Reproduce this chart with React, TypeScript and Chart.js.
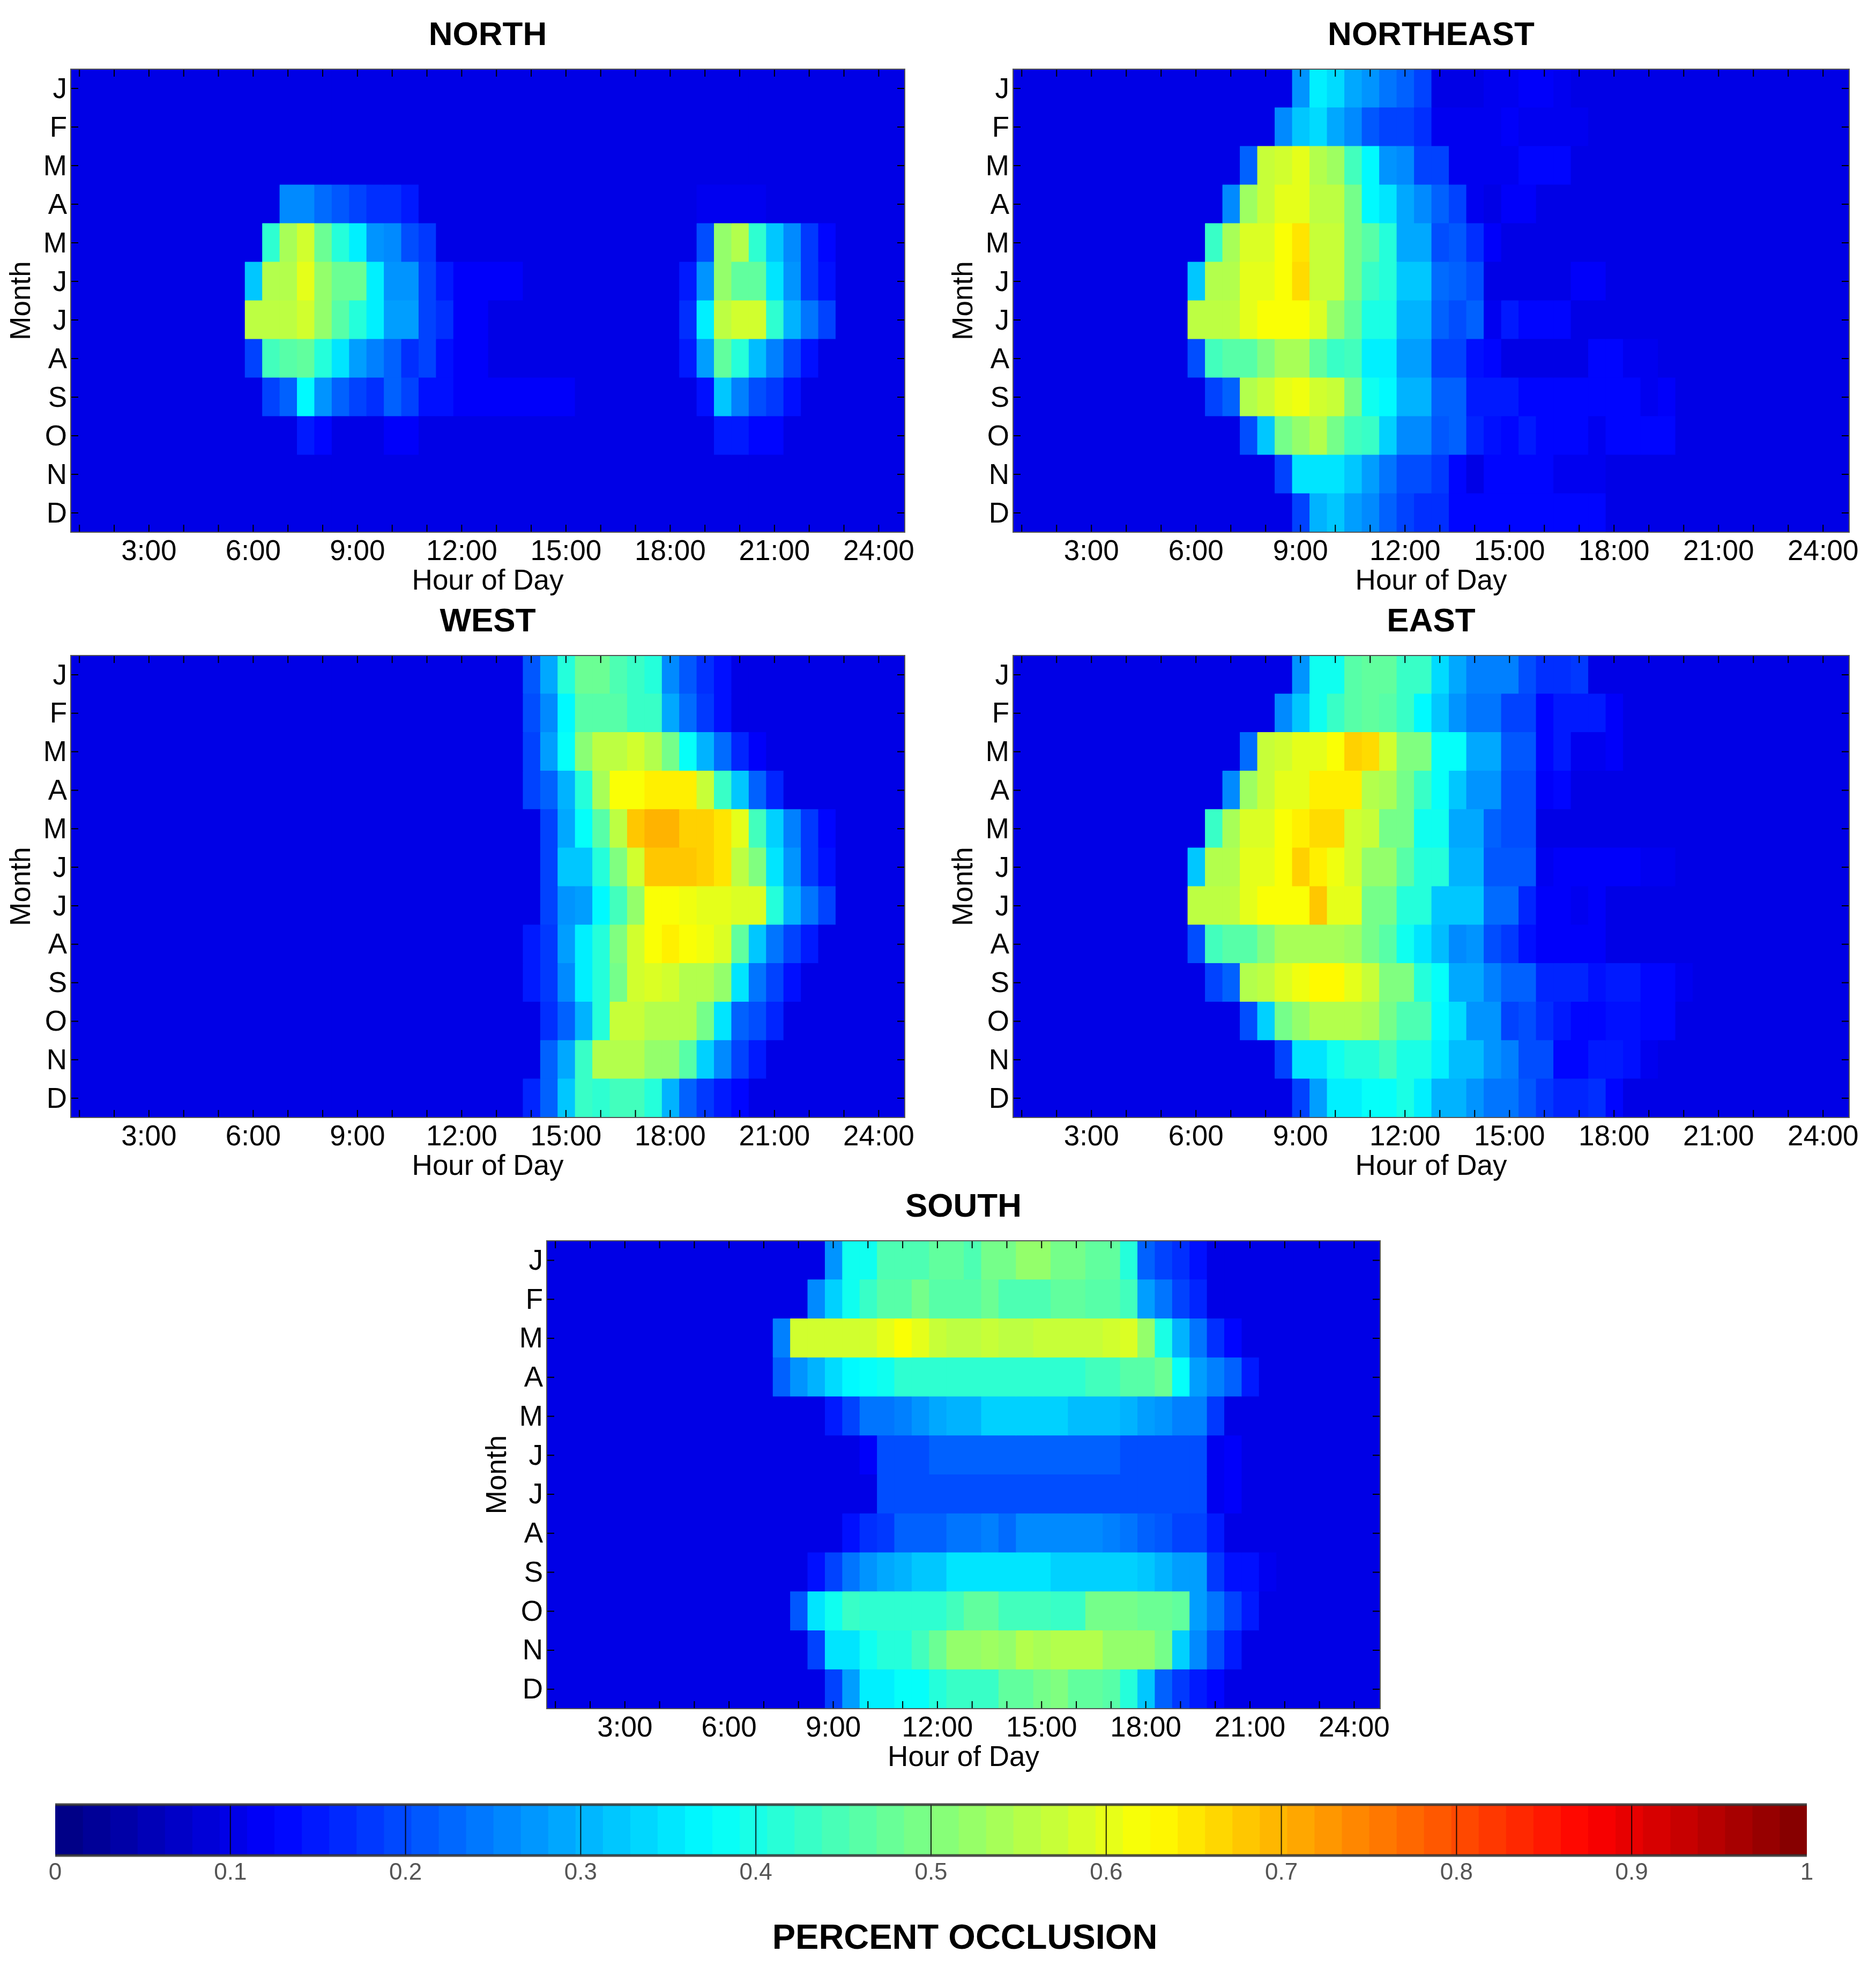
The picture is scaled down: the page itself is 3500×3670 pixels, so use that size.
import React, { useEffect, useRef } from "react";
import { Chart, registerables } from "chart.js";

Chart.register(...registerables);

const MONTHS = ["J", "F", "M", "A", "M", "J", "J", "A", "S", "O", "N", "D"];
const HOURS = [1, 1.5, 2, 2.5, 3, 3.5, 4, 4.5, 5, 5.5, 6, 6.5, 7, 7.5, 8, 8.5, 9, 9.5, 10, 10.5, 11, 11.5, 12, 12.5, 13, 13.5, 14, 14.5, 15, 15.5, 16, 16.5, 17, 17.5, 18, 18.5, 19, 19.5, 20, 20.5, 21, 21.5, 22, 22.5, 23, 23.5, 24, 24.5];
const HOUR_TICKS = [1, 2, 3, 4, 5, 6, 7, 8, 9, 10, 11, 12, 13, 14, 15, 16, 17, 18, 19, 20, 21, 22, 23, 24];
const HOUR_TICK_LABELS = ["", "", "3:00", "", "", "6:00", "", "", "9:00", "", "", "12:00", "", "", "15:00", "", "", "18:00", "", "", "21:00", "", "", "24:00"];
const COLORBAR_TICKS = [0, 0.1, 0.2, 0.3, 0.4, 0.5, 0.6, 0.7, 0.8, 0.9, 1];
const COLORBAR_TICK_LABELS = ["0", "0.1", "0.2", "0.3", "0.4", "0.5", "0.6", "0.7", "0.8", "0.9", "1"];

// Percent occlusion per month (rows) and half hour (columns), 8 columns per group.
const NORTH = [
  [10,10,10,10,10,10,10,10, 10,10,10,10,10,10,10,10, 10,10,10,10,10,10,10,10, 10,10,10,10,10,10,10,10, 10,10,10,10,10,10,10,10, 10,10,10,10,10,10,10,10],
  [10,10,10,10,10,10,10,10, 10,10,10,10,10,10,10,10, 10,10,10,10,10,10,10,10, 10,10,10,10,10,10,10,10, 10,10,10,10,10,10,10,10, 10,10,10,10,10,10,10,10],
  [10,10,10,10,10,10,10,10, 10,10,10,10,10,10,10,10, 10,10,10,10,10,10,10,10, 10,10,10,10,10,10,10,10, 10,10,10,10,10,10,10,10, 10,10,10,10,10,10,10,10],
  [10,10,10,10,10,10,10,10, 10,10,10,10,26,26,23,21, 19,17,17,15,10,10,10,10, 10,10,10,10,10,10,10,10, 10,10,10,10,11,11,11,11, 10,10,10,10,10,10,10,10],
  [10,10,10,10,10,10,10,10, 10,10,10,42,54,58,48,41, 36,27,26,20,18,10,10,10, 10,10,10,10,10,10,10,10, 10,10,10,10,20,52,55,42, 32,26,18,13,10,10,10,10],
  [10,10,10,10,10,10,10,10, 10,10,32,55,55,60,52,48, 48,36,27,27,19,15,12,12, 12,12,10,10,10,10,10,10, 10,10,10,15,27,52,47,47, 35,27,18,14,10,10,10,10],
  [10,10,10,10,10,10,10,10, 10,10,56,56,56,58,52,46, 41,36,28,28,19,17,12,12, 10,10,10,10,10,10,10,10, 10,10,10,17,36,56,58,58, 42,30,24,19,10,10,10,10],
  [10,10,10,10,10,10,10,10, 10,10,19,44,46,47,41,35, 28,25,22,17,19,14,12,12, 10,10,10,10,10,10,10,10, 10,10,10,15,28,47,41,31, 25,19,14,10,10,10,10,10],
  [10,10,10,10,10,10,10,10, 10,10,10,19,22,37,27,22, 19,17,22,19,14,14,12,12, 12,12,12,12,12,10,10,10, 10,10,10,10,14,32,25,20, 18,14,10,10,10,10,10,10],
  [10,10,10,10,10,10,10,10, 10,10,10,10,10,15,13,10, 10,10,12,12,10,10,10,10, 10,10,10,10,10,10,10,10, 10,10,10,10,10,15,15,13, 13,10,10,10,10,10,10,10],
  [10,10,10,10,10,10,10,10, 10,10,10,10,10,10,10,10, 10,10,10,10,10,10,10,10, 10,10,10,10,10,10,10,10, 10,10,10,10,10,10,10,10, 10,10,10,10,10,10,10,10],
  [10,10,10,10,10,10,10,10, 10,10,10,10,10,10,10,10, 10,10,10,10,10,10,10,10, 10,10,10,10,10,10,10,10, 10,10,10,10,10,10,10,10, 10,10,10,10,10,10,10,10],
];

const NORTHEAST = [
  [10,10,10,10,10,10,10,10, 10,10,10,10,10,10,10,10, 27,36,34,29,27,24,22,19, 10,10,10,11,11,12,12,11, 10,10,10,10,10,10,10,10, 10,10,10,10,10,10,10,10],
  [10,10,10,10,10,10,10,10, 10,10,10,10,10,10,10,26, 32,34,29,26,21,19,19,17, 11,11,11,11,12,11,11,11, 11,10,10,10,10,10,10,10, 10,10,10,10,10,10,10,10],
  [10,10,10,10,10,10,10,10, 10,10,10,10,10,22,57,58, 60,55,53,44,37,27,26,19, 19,11,11,11,11,13,13,13, 10,10,10,10,10,10,10,10, 10,10,10,10,10,10,10,10],
  [10,10,10,10,10,10,10,10, 10,10,10,10,26,53,57,60, 60,56,56,49,37,35,29,26, 22,19,11,10,12,12,10,10, 10,10,10,10,10,10,10,10, 10,10,10,10,10,10,10,10],
  [10,10,10,10,10,10,10,10, 10,10,10,43,54,59,59,62, 65,57,57,49,46,41,29,29, 20,21,17,12,10,10,10,10, 10,10,10,10,10,10,10,10, 10,10,10,10,10,10,10,10],
  [10,10,10,10,10,10,10,10, 10,10,32,55,55,60,60,62, 66,57,57,49,43,41,32,32, 23,22,20,10,10,10,10,10, 12,12,10,10,10,10,10,10, 10,10,10,10,10,10,10,10],
  [10,10,10,10,10,10,10,10, 10,10,56,56,56,60,62,62, 62,59,52,47,40,40,30,30, 22,20,22,11,15,13,13,13, 10,10,10,10,10,10,10,10, 10,10,10,10,10,10,10,10],
  [10,10,10,10,10,10,10,10, 10,10,20,44,46,46,50,54, 54,47,43,44,36,36,28,28, 19,19,14,13,10,10,10,10, 10,13,13,11,11,10,10,10, 10,10,10,10,10,10,10,10],
  [10,10,10,10,10,10,10,10, 10,10,10,19,22,55,57,60, 61,58,57,49,39,37,30,30, 22,22,15,15,15,13,13,13, 13,13,13,13,11,12,10,10, 10,10,10,10,10,10,10,10],
  [10,10,10,10,10,10,10,10, 10,10,10,10,10,20,32,49, 52,55,49,44,43,33,26,26, 21,22,16,14,13,15,13,13, 13,11,13,13,13,13,10,10, 10,10,10,10,10,10,10,10],
  [10,10,10,10,10,10,10,10, 10,10,10,10,10,10,10,19, 35,35,35,32,28,24,20,20, 18,13,10,13,13,13,13,11, 11,11,10,10,10,10,10,10, 10,10,10,10,10,10,10,10],
  [10,10,10,10,10,10,10,10, 10,10,10,10,10,10,10,10, 19,30,32,28,26,22,19,17, 17,13,13,13,13,13,13,13, 13,13,10,10,10,10,10,10, 10,10,10,10,10,10,10,10],
];

const WEST = [
  [10,10,10,10,10,10,10,10, 10,10,10,10,10,10,10,10, 10,10,10,10,10,10,10,10, 10,10,21,29,41,48,48,45, 43,41,26,21,17,14,10,10, 10,10,10,10,10,10,10,10],
  [10,10,10,10,10,10,10,10, 10,10,10,10,10,10,10,10, 10,10,10,10,10,10,10,10, 10,10,20,26,37,46,46,46, 43,43,29,23,18,14,10,10, 10,10,10,10,10,10,10,10],
  [10,10,10,10,10,10,10,10, 10,10,10,10,10,10,10,10, 10,10,10,10,10,10,10,10, 10,10,19,28,38,51,56,56, 58,55,49,38,30,23,16,12, 10,10,10,10,10,10,10,10],
  [10,10,10,10,10,10,10,10, 10,10,10,10,10,10,10,10, 10,10,10,10,10,10,10,10, 10,10,19,22,30,41,54,62, 62,64,64,64,57,43,32,22, 16,10,10,10,10,10,10,10],
  [10,10,10,10,10,10,10,10, 10,10,10,10,10,10,10,10, 10,10,10,10,10,10,10,10, 10,10,10,19,29,38,46,56, 68,70,70,67,67,65,60,44, 33,25,18,13,10,10,10,10],
  [10,10,10,10,10,10,10,10, 10,10,10,10,10,10,10,10, 10,10,10,10,10,10,10,10, 10,10,10,19,32,32,41,50, 58,68,68,68,67,65,56,50, 35,27,18,14,10,10,10,10],
  [10,10,10,10,10,10,10,10, 10,10,10,10,10,10,10,10, 10,10,10,10,10,10,10,10, 10,10,10,19,27,28,37,44, 52,62,62,61,60,60,59,59, 41,30,24,19,10,10,10,10],
  [10,10,10,10,10,10,10,10, 10,10,10,10,10,10,10,10, 10,10,10,10,10,10,10,10, 10,10,15,18,28,36,41,50, 58,62,64,62,61,59,47,32, 24,19,15,10,10,10,10,10],
  [10,10,10,10,10,10,10,10, 10,10,10,10,10,10,10,10, 10,10,10,10,10,10,10,10, 10,10,15,18,26,36,41,49, 58,59,58,55,55,52,35,24, 19,14,10,10,10,10,10,10],
  [10,10,10,10,10,10,10,10, 10,10,10,10,10,10,10,10, 10,10,10,10,10,10,10,10, 10,10,10,17,22,30,41,57, 57,55,55,55,49,35,22,20, 16,10,10,10,10,10,10,10],
  [10,10,10,10,10,10,10,10, 10,10,10,10,10,10,10,10, 10,10,10,10,10,10,10,10, 10,10,10,22,29,43,55,55, 55,52,52,46,33,26,19,15, 10,10,10,10,10,10,10,10],
  [10,10,10,10,10,10,10,10, 10,10,10,10,10,10,10,10, 10,10,10,10,10,10,10,10, 10,10,16,22,32,43,42,44, 44,41,30,22,18,15,13,10, 10,10,10,10,10,10,10,10],
];

const EAST = [
  [10,10,10,10,10,10,10,10, 10,10,10,10,10,10,10,10, 27,39,39,46,47,47,43,43, 34,29,25,25,25,20,17,17, 18,10,10,10,10,10,10,10, 10,10,10,10,10,10,10,10],
  [10,10,10,10,10,10,10,10, 10,10,10,10,10,10,10,26, 32,39,43,46,47,46,43,37, 32,27,24,24,19,19,13,15, 15,15,12,10,10,10,10,10, 10,10,10,10,10,10,10,10],
  [10,10,10,10,10,10,10,10, 10,10,10,10,10,23,57,58, 60,60,62,67,66,58,50,50, 38,38,29,29,21,21,13,15, 11,11,12,10,10,10,10,10, 10,10,10,10,10,10,10,10],
  [10,10,10,10,10,10,10,10, 10,10,10,10,26,53,57,60, 60,64,64,64,55,54,49,43, 38,32,27,27,20,20,12,13, 10,10,10,10,10,10,10,10, 10,10,10,10,10,10,10,10],
  [10,10,10,10,10,10,10,10, 10,10,10,43,54,59,59,62, 64,66,66,58,57,49,49,39, 39,29,29,22,20,20,10,10, 10,10,10,10,10,10,10,10, 10,10,10,10,10,10,10,10],
  [10,10,10,10,10,10,10,10, 10,10,32,55,55,60,60,62, 67,64,61,58,52,52,46,41, 41,30,30,21,21,21,11,12, 12,12,12,12,11,11,10,10, 10,10,10,10,10,10,10,10],
  [10,10,10,10,10,10,10,10, 10,10,56,56,56,60,62,62, 62,68,60,60,49,49,41,41, 32,32,32,23,23,16,12,12, 11,12,10,10,10,10,10,10, 10,10,10,10,10,10,10,10],
  [10,10,10,10,10,10,10,10, 10,10,20,44,46,46,50,54, 54,54,54,53,49,46,39,35, 31,26,27,20,18,14,12,12, 12,12,10,10,10,10,10,10, 10,10,10,10,10,10,10,10],
  [10,10,10,10,10,10,10,10, 10,10,10,19,22,55,56,59, 61,63,63,60,57,50,50,41, 38,29,29,25,22,22,16,16, 16,14,15,15,13,13,11,10, 10,10,10,10,10,10,10,10],
  [10,10,10,10,10,10,10,10, 10,10,10,10,10,20,33,49, 52,55,55,55,54,49,45,45, 37,34,27,27,19,20,17,15, 13,13,14,14,13,13,10,10, 10,10,10,10,10,10,10,10],
  [10,10,10,10,10,10,10,10, 10,10,10,10,10,10,10,19, 35,35,39,41,41,44,40,40, 36,31,31,27,25,20,20,13, 13,15,15,14,11,10,10,10, 10,10,10,10,10,10,10,10],
  [10,10,10,10,10,10,10,10, 10,10,10,10,10,10,10,10, 19,28,36,36,38,38,40,36, 30,30,27,24,24,21,18,16, 16,17,13,10,10,10,10,10, 10,10,10,10,10,10,10,10],
];

const SOUTH = [
  [10,10,10,10,10,10,10,10, 10,10,10,10,10,10,10,10, 27,39,39,45,45,45,47,47, 45,49,49,52,52,49,49,47, 47,41,22,19,17,14,10,10, 10,10,10,10,10,10,10,10],
  [10,10,10,10,10,10,10,10, 10,10,10,10,10,10,10,26, 33,39,43,46,46,49,46,46, 46,48,45,45,45,47,47,46, 46,44,28,24,19,16,10,10, 10,10,10,10,10,10,10,10],
  [10,10,10,10,10,10,10,10, 10,10,10,10,10,25,58,58, 58,58,58,60,62,60,57,56, 56,57,56,56,57,57,57,57, 58,59,52,40,30,24,17,13, 10,10,10,10,10,10,10,10],
  [10,10,10,10,10,10,10,10, 10,10,10,10,10,22,27,30, 34,37,38,39,42,42,42,42, 42,42,42,42,42,42,42,44, 44,46,46,48,38,28,25,22, 15,10,10,10,10,10,10,10],
  [10,10,10,10,10,10,10,10, 10,10,10,10,10,10,10,10, 15,19,24,24,25,27,29,30, 30,33,33,33,33,33,31,31, 31,30,28,27,25,25,18,10, 10,10,10,10,10,10,10,10],
  [10,10,10,10,10,10,10,10, 10,10,10,10,10,10,10,10, 10,10,12,20,20,20,22,22, 22,22,22,22,22,22,22,22, 22,20,20,20,20,20,11,12, 10,10,10,10,10,10,10,10],
  [10,10,10,10,10,10,10,10, 10,10,10,10,10,10,10,10, 10,10,10,20,20,20,20,20, 20,20,20,20,20,20,20,20, 20,20,20,20,20,20,11,12, 10,10,10,10,10,10,10,10],
  [10,10,10,10,10,10,10,10, 10,10,10,10,10,10,10,10, 10,14,17,18,22,22,22,24, 24,25,23,26,26,26,26,26, 25,24,22,21,19,19,15,10, 10,10,10,10,10,10,10,10],
  [10,10,10,10,10,10,10,10, 10,10,10,10,10,10,10,14, 19,24,27,29,30,32,32,35, 35,35,35,35,35,33,33,33, 33,33,32,30,28,28,18,14, 14,11,10,10,10,10,10,10],
  [10,10,10,10,10,10,10,10, 10,10,10,10,10,10,21,35, 39,43,42,42,42,42,42,44, 47,47,44,44,44,43,43,49, 49,49,48,48,47,28,24,19, 15,10,10,10,10,10,10,10],
  [10,10,10,10,10,10,10,10, 10,10,10,10,10,10,10,19, 35,35,39,41,41,44,48,52, 52,53,52,55,54,55,55,55, 52,52,52,49,33,26,20,15, 10,10,10,10,10,10,10,10],
  [10,10,10,10,10,10,10,10, 10,10,10,10,10,10,10,10, 19,28,36,36,38,38,41,43, 43,43,47,47,49,50,47,47, 46,41,32,22,18,15,13,10, 10,10,10,10,10,10,10,10],
];

const FONT = '"Liberation Sans", Arial, sans-serif';

function jet(v: number): string {
  const c = (x: number) => Math.round(255 * Math.max(0, Math.min(1, x)));
  const r = Math.min(4 * v - 1.5, -4 * v + 4.5);
  const g = Math.min(4 * v - 0.5, -4 * v + 3.5);
  const b = Math.min(4 * v + 0.5, -4 * v + 2.5);
  return `rgb(${c(r)},${c(g)},${c(b)})`;
}

const frame = {
  id: "frame",
  afterDatasetsDraw(chart: any) {
    const { ctx, chartArea: a, scales } = chart;
    const len = 14;
    ctx.save();
    ctx.strokeStyle = "#000";
    ctx.lineWidth = 2;
    ctx.beginPath();
    scales.x.ticks.forEach((t: any) => {
      const p = scales.x.getPixelForValue(t.value);
      ctx.moveTo(p, a.top);
      ctx.lineTo(p, a.top + len);
      ctx.moveTo(p, a.bottom);
      ctx.lineTo(p, a.bottom - len);
    });
    scales.y.ticks.forEach((_: any, i: number) => {
      const p = scales.y.getPixelForTick(i);
      ctx.moveTo(a.left, p);
      ctx.lineTo(a.left + len, p);
      ctx.moveTo(a.right, p);
      ctx.lineTo(a.right - len, p);
    });
    ctx.stroke();
    ctx.strokeStyle = "#555";
    ctx.lineWidth = 2;
    ctx.strokeRect(a.left, a.top, a.right - a.left, a.bottom - a.top);
    ctx.restore();
  },
};

const barFrame = {
  id: "barFrame",
  afterDatasetsDraw(chart: any) {
    const { ctx, chartArea: a, scales } = chart;
    ctx.save();
    ctx.strokeStyle = "rgba(0,0,0,0.85)";
    ctx.lineWidth = 2;
    ctx.beginPath();
    COLORBAR_TICKS.slice(1, -1).forEach((t) => {
      const p = scales.x.getPixelForValue(t);
      ctx.moveTo(p, a.top);
      ctx.lineTo(p, a.bottom);
    });
    ctx.stroke();
    ctx.strokeStyle = "rgba(50,50,50,0.85)";
    ctx.lineWidth = 5;
    ctx.beginPath();
    ctx.moveTo(a.left, a.top);
    ctx.lineTo(a.right, a.top);
    ctx.moveTo(a.left, a.bottom);
    ctx.lineTo(a.right, a.bottom);
    ctx.stroke();
    ctx.restore();
  },
};

function Panel({ title, rows, x, y, w, h }: { title: string; rows: number[][]; x: number; y: number; w: number; h: number }) {
  const ref = useRef<HTMLCanvasElement>(null);
  const padLeft = 130, padTop = 128, padBottom = 130, padRight = 50;
  useEffect(() => {
    const datasets = HOURS.map((hour, col) => ({
      data: rows.map(() => [hour - 0.25, hour + 0.25]),
      backgroundColor: rows.map((r) => jet(r[col] / 100)),
      borderWidth: 0,
      inflateAmount: 0.6,
      barPercentage: 1,
      categoryPercentage: 1,
      grouped: false,
    }));
    const chart = new Chart(ref.current!, {
      type: "bar",
      data: { labels: MONTHS, datasets },
      plugins: [frame],
      options: {
        indexAxis: "y",
        animation: false,
        responsive: false,
        events: [],
        layout: { padding: { left: 0, right: padRight, top: 0, bottom: 0 } },
        plugins: {
          legend: { display: false },
          tooltip: { enabled: false },
          title: {
            display: true,
            text: title,
            fullSize: false,
            color: "#000",
            font: { family: FONT, size: 62, weight: "bold", lineHeight: 1 },
            padding: { top: 35, bottom: 31 },
          },
        },
        scales: {
          x: {
            type: "linear",
            min: 0.75,
            max: 24.75,
            grid: { display: false, drawTicks: false },
            border: { display: false },
            afterBuildTicks: (axis: any) => {
              axis.ticks = HOUR_TICKS.map((value) => ({ value }));
            },
            afterFit: (axis: any) => {
              axis.height = padBottom;
            },
            ticks: {
              autoSkip: false,
              maxRotation: 0,
              minRotation: 0,
              padding: 11,
              color: "#000",
              font: { family: FONT, size: 53, lineHeight: 1 },
              callback: (_v: any, i: number) => HOUR_TICK_LABELS[i],
            },
            title: {
              display: true,
              text: "Hour of Day",
              color: "#000",
              font: { family: FONT, size: 53, lineHeight: 1 },
              padding: { top: 0, bottom: 11 },
            },
          },
          y: {
            type: "category",
            grid: { display: false, drawTicks: false },
            border: { display: false },
            afterFit: (axis: any) => {
              axis.width = padLeft;
            },
            ticks: {
              autoSkip: false,
              padding: 7,
              labelOffset: 3,
              color: "#000",
              font: { family: FONT, size: 53, lineHeight: 1 },
            },
            title: {
              display: true,
              text: "Month",
              color: "#000",
              font: { family: FONT, size: 53, lineHeight: 1 },
              padding: { top: 13, bottom: 0 },
            },
          },
        },
      } as any,
    });
    return () => chart.destroy();
  }, []);
  return (
    <canvas
      ref={ref}
      width={w + padLeft + padRight}
      height={h + padTop + padBottom}
      style={{ position: "absolute", left: x - padLeft, top: y - padTop, display: "block" }}
    />
  );
}

function ColorBar() {
  const ref = useRef<HTMLCanvasElement>(null);
  useEffect(() => {
    const levels = Array.from({ length: 64 }, (_, i) => i);
    const datasets = levels.map((i) => ({
      data: [[i / 64, (i + 1) / 64]],
      backgroundColor: jet((i + 0.5) / 64),
      borderWidth: 0,
      inflateAmount: 0.6,
      barPercentage: 1,
      categoryPercentage: 1,
      grouped: false,
    }));
    const chart = new Chart(ref.current!, {
      type: "bar",
      data: { labels: ["PERCENT OCCLUSION"], datasets },
      plugins: [barFrame],
      options: {
        indexAxis: "y",
        animation: false,
        responsive: false,
        events: [],
        layout: { padding: { left: 103, right: 129, top: 67, bottom: 0 } },
        plugins: { legend: { display: false }, tooltip: { enabled: false } },
        scales: {
          x: {
            type: "linear",
            min: 0,
            max: 1,
            grid: { display: false, drawTicks: false },
            border: { display: false },
            afterBuildTicks: (axis: any) => {
              axis.ticks = COLORBAR_TICKS.map((value) => ({ value }));
            },
            afterFit: (axis: any) => {
              axis.height = 208;
            },
            ticks: {
              autoSkip: false,
              maxRotation: 0,
              minRotation: 0,
              padding: 11,
              color: "#555",
              font: { family: FONT, size: 44, lineHeight: 1 },
              callback: (_v: any, i: number) => COLORBAR_TICK_LABELS[i],
            },
          },
          y: { type: "category", display: false },
        },
      } as any,
    });
    return () => chart.destroy();
  }, []);
  return <canvas ref={ref} width={3500} height={370} style={{ position: "absolute", left: 0, top: 3300, display: "block" }} />;
}

export default function App() {
  return (
    <div style={{ position: "absolute", left: 0, top: 0, width: 3500, height: 3670, background: "#fff", overflow: "hidden" }}>
      <Panel title="NORTH" rows={NORTH} x={132} y={129} w={1556} h={864} />
      <Panel title="NORTHEAST" rows={NORTHEAST} x={1890} y={129} w={1560} h={864} />
      <Panel title="WEST" rows={WEST} x={132} y={1223} w={1556} h={862} />
      <Panel title="EAST" rows={EAST} x={1890} y={1223} w={1560} h={862} />
      <Panel title="SOUTH" rows={SOUTH} x={1020} y={2315} w={1555} h={873} />
      <ColorBar />
      <div
        style={{
          position: "absolute",
          left: 1300,
          width: 1000,
          top: 3581,
          textAlign: "center",
          whiteSpace: "nowrap",
          font: `bold 65px/66px ${FONT}`,
          color: "#000",
        }}
      >
        PERCENT OCCLUSION
      </div>
    </div>
  );
}
